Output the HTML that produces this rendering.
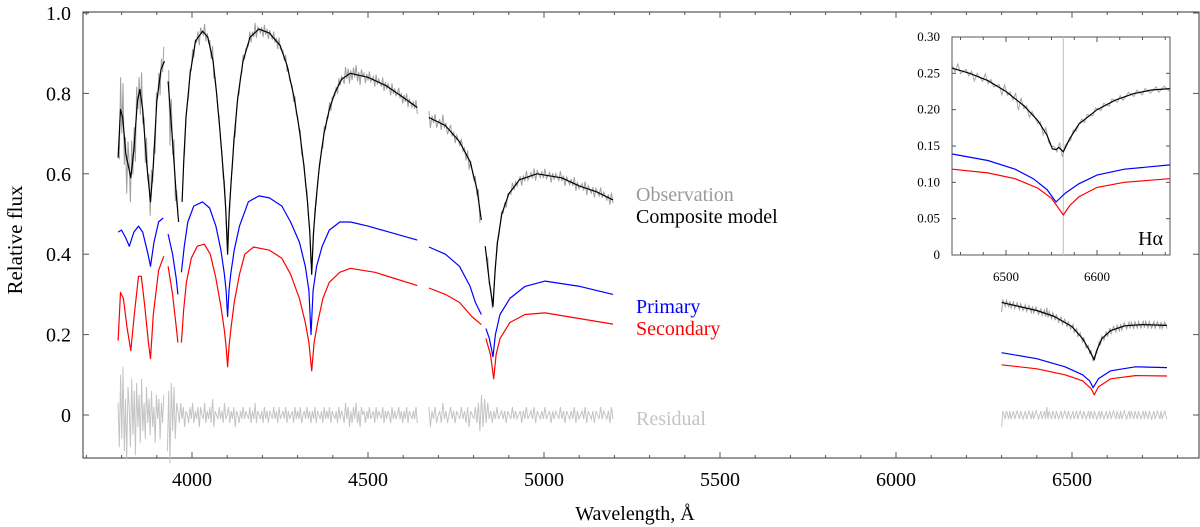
<!DOCTYPE html>
<html><head><meta charset="utf-8"><style>
html,body{margin:0;padding:0;background:#fff;font-family:"Liberation Serif","Times New Roman",Times,serif;}
svg{display:block;}
svg text{font-family:"Liberation Serif","Times New Roman",Times,serif !important;}
</style></head><body>
<svg id="chart" width="1200" height="527" viewBox="0 0 1200 527" style="font-family:'Liberation Serif','Times New Roman',Times,serif">
<rect x="0" y="0" width="1200" height="527" fill="#fff"/>
<g id="main"></g>
<g id="inset"></g>
<text x="636" y="201" font-size="20" fill="#9a9a9a">Observation</text>
<text x="636" y="223" font-size="20" fill="#000">Composite model</text>
<text x="636" y="313" font-size="20" fill="#0000ff">Primary</text>
<text x="636" y="335" font-size="20" fill="#ff0000">Secondary</text>
<text x="636" y="425" font-size="20" fill="#c4c4c4">Residual</text>
<text x="635" y="520" font-size="20" text-anchor="middle">Wavelength, Å</text>
<text x="0" y="0" font-size="21" text-anchor="middle" transform="translate(22,240) rotate(-90)">Relative flux</text>
</svg>
<script>
// ---- data ----
const compositeSegs = [
 [[3790,0.64],[3797,0.76],[3803,0.74],[3812,0.65],[3826,0.59],[3835,0.66],[3845,0.78],[3852,0.81],[3860,0.76],[3872,0.62],[3882,0.53],[3890,0.62],[3900,0.78],[3912,0.86],[3922,0.88]],
 [[3932,0.83],[3945,0.68],[3955,0.55],[3962,0.48]],
 [[3972,0.53],[3977,0.64],[3983,0.74],[3995,0.85],[4010,0.93],[4030,0.955],[4045,0.94],[4060,0.88],[4070,0.80],[4080,0.70],[4090,0.59],[4096,0.51],[4101,0.40],[4106,0.51],[4112,0.59],[4120,0.69],[4130,0.79],[4145,0.88],[4165,0.94],[4190,0.96],[4220,0.95],[4250,0.92],[4270,0.87],[4290,0.79],[4305,0.71],[4318,0.62],[4328,0.53],[4335,0.45],[4340,0.35],[4345,0.45],[4352,0.53],[4362,0.62],[4375,0.70],[4390,0.76],[4405,0.80],[4425,0.835],[4450,0.85],[4500,0.84],[4550,0.82],[4600,0.79],[4640,0.765]],
 [[4673,0.74],[4720,0.72],[4760,0.68],[4790,0.63],[4810,0.56],[4822,0.485]],
 [[4833,0.42],[4845,0.33],[4855,0.27],[4861,0.36],[4868,0.43],[4880,0.50],[4900,0.55],[4930,0.585],[4980,0.60],[5050,0.59],[5100,0.57],[5150,0.555],[5196,0.535]],
 [[6300,0.28],[6350,0.27],[6400,0.26],[6450,0.245],[6500,0.22],[6530,0.19],[6550,0.16],[6563,0.137],[6570,0.16],[6585,0.19],[6610,0.21],[6650,0.222],[6700,0.225],[6770,0.223]]
];
const primarySegs = [
 [[3790,0.455],[3800,0.46],[3812,0.44],[3822,0.42],[3835,0.455],[3848,0.47],[3860,0.455],[3875,0.40],[3882,0.37],[3892,0.43],[3905,0.48],[3918,0.49]],
 [[3932,0.45],[3945,0.40],[3955,0.34],[3960,0.30]],
 [[3970,0.355],[3978,0.42],[3988,0.48],[4005,0.52],[4030,0.53],[4050,0.515],[4068,0.47],[4082,0.41],[4092,0.35],[4097,0.31],[4101,0.245],[4105,0.31],[4110,0.35],[4120,0.41],[4135,0.47],[4160,0.53],[4190,0.545],[4220,0.54],[4255,0.52],[4280,0.48],[4305,0.43],[4322,0.37],[4332,0.31],[4338,0.20],[4344,0.31],[4354,0.37],[4370,0.42],[4390,0.46],[4420,0.48],[4450,0.48],[4500,0.47],[4560,0.455],[4640,0.435]],
 [[4673,0.418],[4720,0.40],[4760,0.37],[4790,0.32],[4805,0.28],[4822,0.25]],
 [[4835,0.215],[4845,0.19],[4855,0.145],[4862,0.20],[4875,0.25],[4903,0.29],[4946,0.32],[5003,0.333],[5102,0.32],[5196,0.30]],
 [[6300,0.155],[6400,0.14],[6480,0.12],[6530,0.10],[6550,0.085],[6560,0.068],[6575,0.09],[6610,0.11],[6680,0.12],[6770,0.118]]
];
const secondarySegs = [
 [[3790,0.185],[3797,0.305],[3805,0.29],[3815,0.22],[3826,0.16],[3836,0.25],[3848,0.345],[3856,0.345],[3866,0.27],[3876,0.18],[3882,0.14],[3890,0.25],[3905,0.36],[3920,0.395]],
 [[3932,0.37],[3945,0.30],[3955,0.22],[3960,0.18]],
 [[3970,0.18],[3976,0.26],[3984,0.33],[3998,0.39],[4015,0.42],[4035,0.425],[4052,0.40],[4068,0.34],[4082,0.27],[4092,0.21],[4097,0.17],[4101,0.12],[4105,0.17],[4110,0.21],[4120,0.28],[4135,0.35],[4150,0.40],[4175,0.418],[4220,0.41],[4255,0.39],[4280,0.35],[4305,0.29],[4322,0.23],[4332,0.18],[4340,0.11],[4347,0.18],[4357,0.23],[4372,0.29],[4390,0.33],[4420,0.355],[4450,0.365],[4520,0.355],[4640,0.322]],
 [[4673,0.316],[4720,0.30],[4760,0.28],[4795,0.245],[4822,0.225]],
 [[4835,0.19],[4848,0.15],[4857,0.09],[4864,0.15],[4875,0.19],[4903,0.23],[4946,0.25],[5003,0.254],[5196,0.226]],
 [[6300,0.125],[6400,0.115],[6480,0.10],[6530,0.085],[6555,0.065],[6563,0.05],[6575,0.07],[6610,0.09],[6680,0.098],[6770,0.097]]
];
// residual segments (values in units of 0.01), each spans resStart..resEnd
const resStart = [3790, 3930, 4673, 6300];
const resEnd   = [3920, 4640, 5196, 6770];
const residual0 = [3,-8,10,-6,12,-9,4,-11,7,2,-8,9,-5,6,-10,8,-3,5,-7,9,-4,3,-6,7,-2,4,-5,6,-3,2,-7,5,-1,4,-6,3,-2,5];
const residual1 = [-9,6,-12,8,-4,7,-6,3,1,-2,3,-1,2,-3,1,0,-2,2,-1,3,-2,1,-1,2,-3,2,0,-1,3,-2,1,-1,2,-2,4,-3,1,0,-1,2,-1,1,-2,3,-1,0,2,-2,1,-1,2,-3,1,0,-2,1,-1,2,-1,1,0,-1,2,-2,1,-1,3,-2,1,0,-1,1,-2,2,-1,1,-2,1,0,-1,2,-1,1,-2,2,-1,0,1,-1,2,-2,1,-1,0,1,-2,2,-1,1,-1,2,-2,0,1,-1,2,-1,1,-2,1,-1,2,-2,1,0,-1,1,-2,2,-1,1,-1,2,-2,1,0,-1,1,-2,2,-1,1,0,-2,3,-1,2,-3,1,-2,2,-1,3,-2,1,-3,2,0,1,-2,1,-1,2,-1,0,1,-2,2,-1,1,0,-1,2,-2,1,-1,1,0,-2,2,-1,1,-1,0,2,-1,1,-2,1,-1,2,-2,1,0,-1,1,-1,2,-2];
const residual2 = [2,-3,1,-1,2,-2,0,1,-2,3,-1,1,-2,0,2,-1,1,-2,1,0,-1,2,-1,1,-2,2,-3,1,0,-1,2,-2,3,-4,5,-3,4,-2,3,-1,1,-2,1,-1,2,-1,0,1,-1,1,-2,1,0,-1,2,-1,1,-1,0,1,-2,1,-1,2,-1,0,1,-1,2,-2,1,0,-1,1,-1,2,-1,0,1,-2,1,-1,1,0,-1,2,-1,1,-2,1,0,-1,1,-1,2,-2,1,-1,0,1,-1,2,-2,1,0,-1,1,-2,1,0,-1,2,-1,1,0,-1,1,-2,2,-1];
const residual3 = [-3,1,0,-1,1,0,-1,1,-1,0,1,-1,0,1,0,-1,1,0,-1,0,1,-1,0,1,0,-1,1,-1,0,1,0,-1,0,1,-1,0,1,-1,2,-1,1,0,-1,1,0,-1,1,0,-1,0,1,-1,0,1,0,-1,1,0,-1,0,1,-1,0,1,-1,0,1,0,-1,1,0,-1,0,1,-1,1,0,-1,1,0,-1,0,1,-1,1,0,-1,0,1,-1,0,1,-1,0,1,0,-1,1,0,-1,1,-1,0,1,0,-1,0,1,-1,1,0,-1,1,0,-1,1,0,-1,0,1,-1,1,0,-1,1,0,-1,0,1,-1,0,1,0,-1,1,-1,0,1,0,-1];
// inset H-alpha data
const insetComposite = [[6441,0.257],[6460,0.25],[6480,0.24],[6500,0.225],[6520,0.205],[6535,0.185],[6545,0.165],[6551,0.146],[6555,0.145],[6558,0.148],[6563,0.142],[6570,0.16],[6580,0.18],[6600,0.2],[6620,0.213],[6640,0.222],[6660,0.227],[6680,0.229]];
const insetPrimary = [[6441,0.139],[6480,0.13],[6510,0.118],[6530,0.105],[6545,0.09],[6555,0.073],[6565,0.085],[6580,0.098],[6600,0.11],[6630,0.118],[6680,0.124]];
const insetSecondary = [[6441,0.118],[6480,0.113],[6510,0.105],[6535,0.092],[6550,0.078],[6563,0.055],[6570,0.068],[6580,0.08],[6600,0.093],[6630,0.1],[6680,0.105]];
const insetNoise = [1,-1,2,-1,0,1,-1,1,-2,1,0,-1,2,-1,1,-1,0,1,-2,2,-1,1,-1,2,-3,2,-1,1,-2,1,0,-1,1,-2,2,-1,0,1,-1,2,-2,1,0,-1,1,-1,0,1,-1,1,0,-1,1,0,-1,1,0,-1,1,0,-1,1,-1,0,1,0,-1,1,0,-1,1,0,-1,0,1,-1,0,1,0,-1];
const xTicksMain = [4000,4500,5000,5500,6000,6500];
const yTicksMain = [0,0.2,0.4,0.6,0.8,1.0];
const yTickLabels = ["0","0.2","0.4","0.6","0.8","1.0"];
const insetXTicks = [6500,6600];
const insetYTicks = [0,0.05,0.10,0.15,0.20,0.25,0.30];
const insetYLabels = ["0","0.05","0.10","0.15","0.20","0.25","0.30"];
const residualSets = [residual0,residual1,residual2,residual3];

// ---- scales ----
const X = w => 192 + (w-4000)*0.352;
const Y = f => 415 - 402*f;
const IX = w => 1006 + (w-6500)*0.91;
const IY = f => 255 - 726.7*f;
const NS='http://www.w3.org/2000/svg';
const SERIF="'Liberation Serif','Times New Roman',Times,serif";
function mk(tag, attrs, parent){const e=document.createElementNS(NS,tag);for(const k in attrs)e.setAttribute(k,attrs[k]);if(tag==='text')e.setAttribute('font-family',SERIF);parent.appendChild(e);return e;}
function interp(segs,w){for(const s of segs){if(w>=s[0][0]&&w<=s[s.length-1][0]){for(let i=1;i<s.length;i++){if(w<=s[i][0]){const a=s[i-1],b=s[i];const t=(w-a[0])/(b[0]-a[0]||1);return a[1]+t*(b[1]-a[1]);}}}}return null;}
function segPath(segs,sx,sy){return segs.map(s=>s.map((p,i)=>(i?'L':'M')+sx(p[0]).toFixed(1)+','+sy(p[1]).toFixed(1)).join('')).join('');}
const main=document.getElementById('main');
const inset=document.getElementById('inset');
document.querySelectorAll('svg text').forEach(t=>t.setAttribute('font-family',SERIF));

// frame
const fr=mk('rect',{x:83,y:12,width:1116,height:446,fill:'none',stroke:'#555','stroke-width':1.2},main);


for(let w=3700;w<=6900;w+=100){const x=X(w);if(x<84||x>1198)continue;const L=(w%500===0)?6:3;
 const t1=mk('line',{x1:x,y1:458,x2:x,y2:458-L,stroke:'#555'},main);
 
 
 mk('line',{x1:x,y1:12,x2:x,y2:12+L,stroke:'#555'},main);}
xTicksMain.forEach(w=>{const t=mk('text',{x:X(w),y:486,'font-size':20,'text-anchor':'middle'},main);t.textContent=w;
 
 });
yTicksMain.forEach((f,i)=>{const y=Y(f);
 mk('line',{x1:83,y1:y,x2:89,y2:y,stroke:'#555'},main);mk('line',{x1:1199,y1:y,x2:1193,y2:y,stroke:'#555'},main);
 const t=mk('text',{x:71,y:y+7,'font-size':20,'text-anchor':'end'},main);t.textContent=yTickLabels[i];
 
 });

// residual & observation
let resD='',obsD='';
residualSets.forEach((arr,si)=>{const n=arr.length,step=(resEnd[si]-resStart[si])/(n-1);let rp=true,op=true;
 arr.forEach((v,i)=>{const w=resStart[si]+i*step,r=v*0.01;
  resD+=(rp?'M':'L')+X(w).toFixed(1)+','+Y(r).toFixed(1);rp=false;
  const m=interp(compositeSegs,w);
  if(m===null){op=true;}else{obsD+=(op?'M':'L')+X(w).toFixed(1)+','+Y(m+r*0.8).toFixed(1);op=false;}});});
const res=mk('path',{d:resD,fill:'none',stroke:'#c4c4c4','stroke-width':1},main);


const obs=mk('path',{d:obsD,fill:'none',stroke:'#a0a0a0','stroke-width':1},main);


const pp=mk('path',{d:segPath(primarySegs,X,Y),fill:'none',stroke:'#0000ff','stroke-width':1.2,'stroke-linejoin':'round'},main);


const sp=mk('path',{d:segPath(secondarySegs,X,Y),fill:'none',stroke:'#ff0000','stroke-width':1.2,'stroke-linejoin':'round'},main);


const cp=mk('path',{d:segPath(compositeSegs,X,Y),fill:'none',stroke:'#000','stroke-width':1.2,'stroke-linejoin':'round'},main);



// inset
const ib=mk('rect',{x:952,y:37,width:218,height:218,fill:'#fff',stroke:'#555','stroke-width':1},inset);


mk('line',{x1:IX(6563),y1:37,x2:IX(6563),y2:255,stroke:'#c8c8c8','stroke-width':1.2},inset);
for(let w=6450;w<=6680;w+=25){const x=IX(w);if(x<953||x>1169)continue;const L=(w%100===0)?5:3;
 mk('line',{x1:x,y1:255,x2:x,y2:255-L,stroke:'#555'},inset);mk('line',{x1:x,y1:37,x2:x,y2:37+L,stroke:'#555'},inset);}
insetXTicks.forEach(w=>{const t=mk('text',{x:IX(w),y:281,'font-size':13,'text-anchor':'middle'},inset);t.textContent=w;
 
 });
insetYTicks.forEach((f,i)=>{const y=IY(f);mk('line',{x1:952,y1:y,x2:956,y2:y,stroke:'#555'},inset);mk('line',{x1:1170,y1:y,x2:1166,y2:y,stroke:'#555'},inset);
 const t=mk('text',{x:940,y:y+4,'font-size':13,'text-anchor':'end'},inset);t.textContent=insetYLabels[i];
 
 });
let iod='';const ist=(6680-6441)/(insetNoise.length-1);
insetNoise.forEach((v,i)=>{const w=6441+i*ist;const m=interp([insetComposite],w);iod+=(i?'L':'M')+IX(w).toFixed(1)+','+IY(m+v*0.004).toFixed(1);});
const io=mk('path',{d:iod,fill:'none',stroke:'#a8a8a8','stroke-width':1},inset);


const ip=mk('path',{d:segPath([insetPrimary],IX,IY),fill:'none',stroke:'#0000ff','stroke-width':1.2},inset);


const is=mk('path',{d:segPath([insetSecondary],IX,IY),fill:'none',stroke:'#ff0000','stroke-width':1.2},inset);


const ic=mk('path',{d:segPath([insetComposite],IX,IY),fill:'none',stroke:'#000','stroke-width':1.2},inset);


const ha=mk('text',{x:1163,y:245,'font-size':20,'text-anchor':'end'},inset);ha.textContent='Hα';


</script>
</body></html>
